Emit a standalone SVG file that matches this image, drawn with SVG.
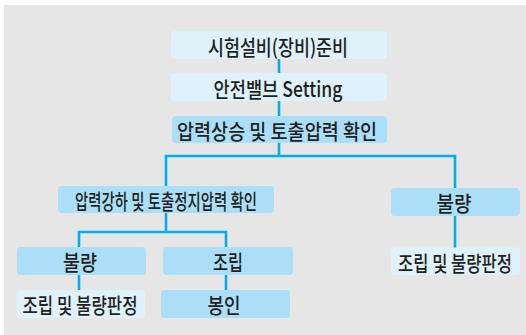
<svg xmlns="http://www.w3.org/2000/svg" width="526" height="335" viewBox="0 0 526 335">
<style>
.bg{fill:#e6e6e6}
.lt{fill:#dff1fa}
.bl{fill:#abdff8}
.ln{fill:none;stroke:#00aeef;stroke-width:2.6;stroke-linejoin:miter}
text{font-family:"Noto Sans CJK KR","Noto Sans",sans-serif;font-size:21px;font-weight:500;fill:#231f20;text-anchor:middle;dominant-baseline:central}
</style>
<rect x="0" y="0" width="526" height="335" fill="#ffffff"/>
<rect class="bg" x="4" y="5" width="522" height="330"/>
<g id="connectors">
<path class="ln" d="M279 59V73M279 101V116M279 143V156"/>
<path class="ln" d="M166 187V156H455V189"/>
<path class="ln" d="M166 212V232"/>
<path class="ln" d="M79 248V232H226V248"/>
<path class="ln" d="M79 274V291M226 274V291"/>
<path class="ln" d="M455 215V248"/>
</g>
<g id="n1"><rect class="lt" x="171" y="31" width="216" height="28" rx="4"/><text x="278" y="45.5" textLength="140" lengthAdjust="spacingAndGlyphs">시험설비(장비)준비</text></g>
<g id="n2"><rect class="lt" x="171" y="73" width="216" height="28" rx="4"/><text x="278" y="87.5" textLength="129" lengthAdjust="spacingAndGlyphs">안전밸브 Setting</text></g>
<g id="n3"><rect class="bl" x="172" y="116" width="215" height="27" rx="4"/><text x="277" y="130" textLength="200" lengthAdjust="spacingAndGlyphs">압력상승 및 토출압력 확인</text></g>
<g id="n4"><rect class="bl" x="58" y="186" width="216" height="27" rx="4"/><text x="166" y="200" textLength="182" lengthAdjust="spacingAndGlyphs">압력강하 및 토출정지압력 확인</text></g>
<g id="n5"><rect class="bl" x="391" y="188" width="129" height="28" rx="4"/><text x="454" y="202" textLength="35" lengthAdjust="spacingAndGlyphs">불량</text></g>
<g id="n6"><rect class="lt" x="391" y="247.5" width="129" height="27.5" rx="4"/><text x="455" y="261.5" textLength="114" lengthAdjust="spacingAndGlyphs">조립 및 불량판정</text></g>
<g id="n7"><rect class="bl" x="17" y="247" width="129" height="28" rx="4"/><text x="80" y="261" textLength="34" lengthAdjust="spacingAndGlyphs">불량</text></g>
<g id="n8"><rect class="bl" x="163" y="247" width="130" height="28" rx="4"/><text x="228" y="261" textLength="30" lengthAdjust="spacingAndGlyphs">조립</text></g>
<g id="n9"><rect class="lt" x="16.5" y="290" width="128.5" height="28" rx="4"/><text x="80" y="304" textLength="115" lengthAdjust="spacingAndGlyphs">조립 및 불량판정</text></g>
<g id="n10"><rect class="bl" x="161" y="290" width="129" height="28" rx="4"/><text x="224" y="304" textLength="33" lengthAdjust="spacingAndGlyphs">봉인</text></g>
</svg>
